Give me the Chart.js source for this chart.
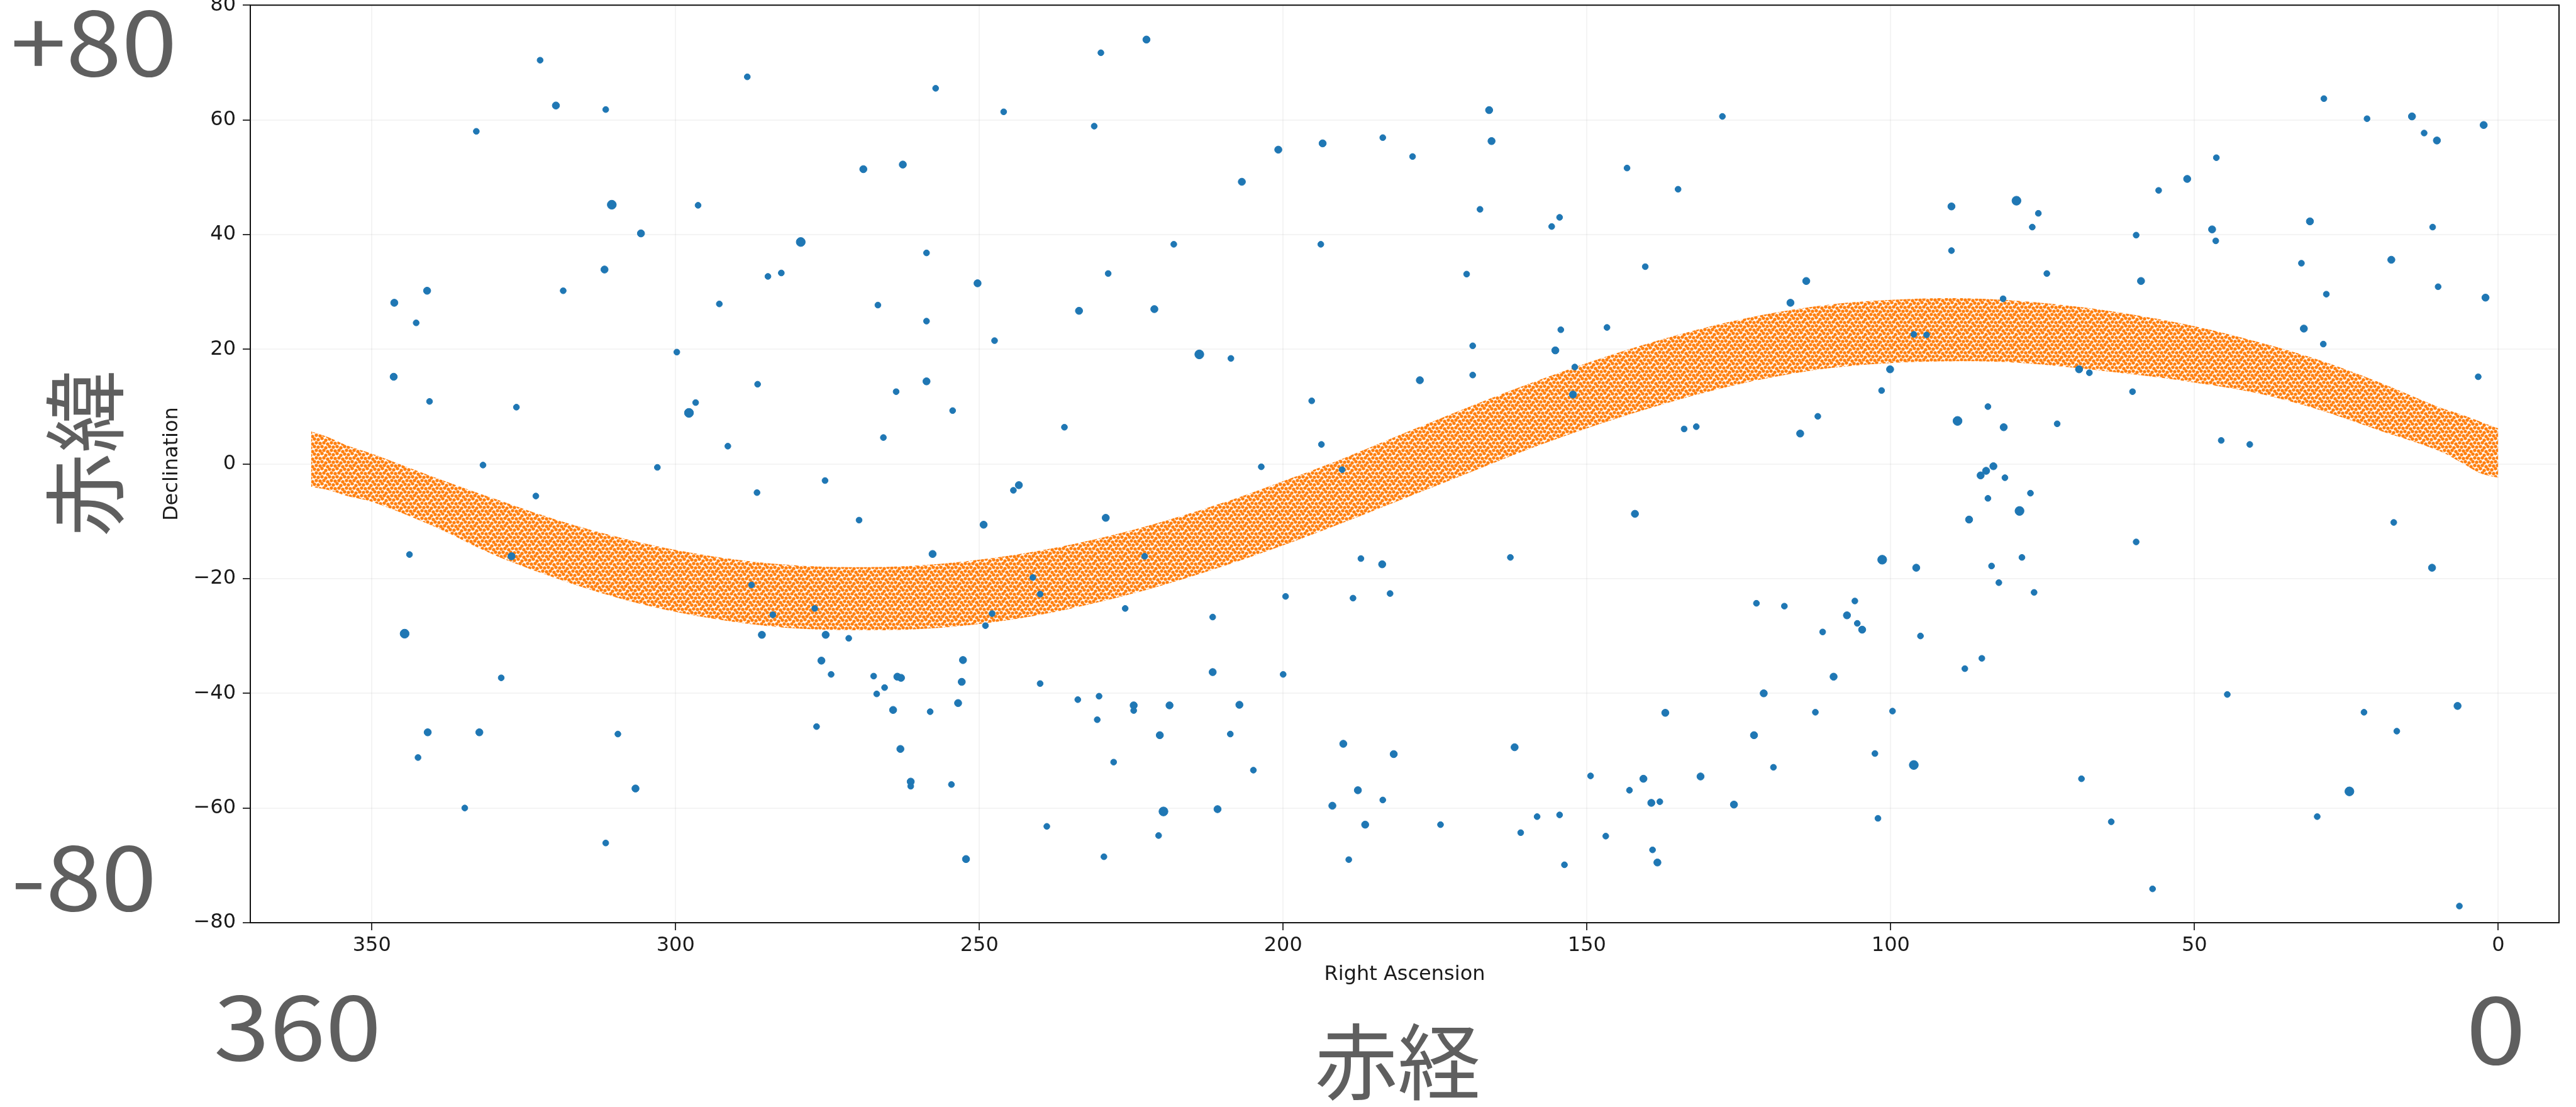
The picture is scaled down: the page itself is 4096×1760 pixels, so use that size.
<!DOCTYPE html>
<html lang="ja">
<head>
<meta charset="UTF-8">
<title>赤経・赤緯</title>
<script src="https://cdn.jsdelivr.net/npm/chart.js@4.4.1/dist/chart.umd.min.js"></script>
<style>
  html, body { margin: 0; padding: 0; background: #fff; }
  #wrap { width: 4096px; height: 1760px; }
</style>
</head>
<body>
<div id="wrap"><canvas id="sky" width="4096" height="1760"></canvas></div>
<script>
// axis ticks
const raTicks = [0, 50, 100, 150, 200, 250, 300, 350];
const decTicks = [-80, -60, -40, -20, 0, 20, 40, 60, 80];

// ecliptic band, upper and lower edge
const bandRA    = [0, 3, 6, 10, 20, 30, 40, 50, 60, 70, 80, 90, 100, 110, 120, 130, 140, 150, 160, 170, 180,
                   190, 200, 210, 220, 230, 240, 250, 260, 270, 280, 290, 300, 310, 320, 330, 340, 350, 354, 357, 360];
const bandUpper = [6.2, 7.4, 8.6, 10.0, 14.4, 18.3, 21.4, 24.0, 26.0, 27.5, 28.5, 28.9, 28.6, 27.8, 26.2, 23.9, 21.0, 17.6, 13.8, 9.7, 5.4,
                   1.0, -3.0, -6.8, -10.1, -12.9, -15.1, -16.7, -17.7, -18.0, -17.7, -16.7, -15.0, -12.6, -9.6, -6.0, -2.2, 1.8, 3.2, 4.6, 5.7];
const bandLower = [-2.4, -1.6, 0.2, 2.4, 6.0, 9.6, 12.4, 14.2, 15.6, 16.8, 17.7, 17.9, 17.6, 16.7, 15.0, 12.6, 9.6, 6.2, 2.4, -1.8, -6.0,
                   -10.2, -14.2, -17.9, -21.2, -24.0, -26.3, -27.9, -28.8, -29.0, -28.7, -27.6, -25.8, -23.2, -19.8, -15.8, -10.8, -6.6, -5.6, -4.6, -4.0];

// stars: [right ascension, declination, brightness class 1..3]
const stars = [
  [322.3,70.4,1],[288.2,67.5,1],[319.7,62.5,2],[311.5,61.8,1],[332.8,58.0,1],[222.5,74.0,2],[230.0,71.7,1],[257.2,65.5,1],
  [246.0,61.4,1],[231.1,58.9,1],[200.8,54.8,2],[193.5,55.9,2],[183.6,56.9,1],[269.1,51.4,2],[262.6,52.2,2],[206.8,49.2,2],
  [310.5,45.2,3],[296.3,45.1,1],[305.7,40.2,2],[279.4,38.7,3],[258.7,36.8,1],[218.0,38.3,1],[193.8,38.3,1],[311.7,33.9,2],
  [284.8,32.7,1],[282.6,33.3,1],[228.8,33.2,1],[250.3,31.5,2],[340.9,30.2,2],[318.5,30.2,1],[346.3,28.1,2],[342.7,24.6,1],
  [292.8,27.9,1],[266.7,27.7,1],[233.6,26.7,2],[221.2,27.0,2],[258.7,24.9,1],[247.5,21.5,1],[299.8,19.5,1],[213.8,19.1,3],
  [208.6,18.4,1],[346.4,15.2,2],[286.5,13.9,1],[258.7,14.4,2],[263.7,12.6,1],[340.5,10.9,1],[326.2,9.9,1],[296.7,10.7,1],
  [297.8,8.9,3],[254.4,9.3,1],[195.3,11.0,1],[236.0,6.4,1],[265.8,4.6,1],[291.4,3.1,1],[193.7,3.4,1],[331.7,-0.2,1],
  [303.0,-0.6,1],[203.6,-0.5,1],[190.3,-1.0,1],
  [166.1,61.7,2],[165.7,56.3,2],[127.7,60.6,1],[178.7,53.6,1],[143.4,51.6,1],[135.0,47.9,1],[167.6,44.4,1],[154.5,43.0,1],
  [155.8,41.4,1],[28.7,63.7,1],[21.6,60.2,1],[14.2,60.6,2],[12.2,57.7,1],[10.1,56.4,2],[2.4,59.1,2],[46.4,53.4,1],
  [51.2,49.7,2],[55.9,47.7,1],[90.0,44.9,2],[79.3,45.9,3],[75.7,43.7,1],[76.7,41.3,1],[31.0,42.3,2],[10.8,41.3,1],
  [59.6,39.9,1],[47.1,40.9,2],[46.5,38.9,1],[90.0,37.2,1],[140.4,34.4,1],[169.8,33.1,1],[113.9,31.9,2],[74.3,33.2,1],
  [58.8,31.9,2],[32.4,35.0,1],[17.6,35.6,2],[9.9,30.9,1],[2.1,29.0,2],[28.3,29.6,1],[116.5,28.1,2],[81.5,28.8,1],
  [154.3,23.4,1],[146.7,23.8,1],[168.8,20.6,1],[155.2,19.8,2],[32.0,23.6,2],[28.8,20.9,1],[152.0,16.9,1],[177.5,14.6,2],
  [168.8,15.5,1],[152.3,12.1,2],[100.1,16.5,2],[96.2,22.6,1],[94.1,22.5,1],[69.0,16.5,2],[67.3,15.9,1],[101.5,12.8,1],
  [60.2,12.6,1],[3.3,15.2,1],[84.0,10.0,1],[112.0,8.3,1],[89.0,7.5,3],[81.4,6.4,2],[72.6,7.0,1],[134.0,6.1,1],
  [132.0,6.5,1],[114.9,5.3,2],[45.6,4.1,1],[40.9,3.4,1],
  [83.1,-0.4,2],[84.3,-1.2,2],[85.2,-2.0,2],[81.2,-2.4,1],[77.0,-5.1,1],[84.0,-6.0,1],[78.8,-8.2,3],[87.1,-9.7,2],
  [142.1,-8.7,2],[17.2,-10.2,1],[59.6,-13.6,1],[162.6,-16.3,1],[101.4,-16.7,3],[95.8,-18.1,2],[83.4,-17.8,1],[78.4,-16.3,1],
  [10.9,-18.1,2],[82.2,-20.7,1],[76.4,-22.4,1],[122.1,-24.3,1],[117.5,-24.8,1],[105.9,-23.9,1],[107.2,-26.4,2],[105.5,-27.8,1],
  [104.7,-28.9,2],[111.2,-29.3,1],[95.1,-30.0,1],[85.0,-33.9,1],[87.8,-35.7,1],[109.4,-37.1,2],[120.9,-40.0,2],[44.6,-40.2,1],
  [137.1,-43.4,2],[112.4,-43.3,1],[99.7,-43.1,1],[6.7,-42.2,2],[22.1,-43.3,1],[16.7,-46.6,1],[122.5,-47.3,2],[161.9,-49.4,2],
  [102.6,-50.5,1],[96.2,-52.5,3],[119.3,-52.9,1],[149.4,-54.4,1],[140.7,-54.9,2],[131.3,-54.5,2],[68.6,-54.9,1],[143.0,-56.9,1],
  [139.4,-59.1,2],[138.0,-58.9,1],[125.8,-59.4,2],[24.5,-57.1,3],[174.1,-62.9,1],[158.2,-61.5,1],[154.5,-61.2,1],[160.9,-64.3,1],
  [146.9,-64.9,1],[102.1,-61.8,1],[63.7,-62.4,1],[29.8,-61.5,1],[139.2,-67.3,1],[138.4,-69.5,2],[153.7,-69.9,1],[56.9,-74.1,1],
  [6.4,-77.1,1],
  [323.0,-5.6,1],[286.6,-5.0,1],[275.4,-2.9,1],[244.4,-4.6,1],[243.5,-3.7,2],[269.8,-9.8,1],[249.3,-10.6,2],[229.2,-9.4,2],
  [343.8,-15.8,1],[327.0,-16.1,2],[257.7,-15.7,2],[222.8,-16.1,1],[187.2,-16.5,1],[183.7,-17.5,2],[241.2,-19.8,1],[199.6,-23.1,1],
  [188.5,-23.4,1],[182.4,-22.6,1],[287.5,-21.1,1],[240.0,-22.7,1],[277.1,-25.2,1],[226.0,-25.2,1],[211.6,-26.7,1],[284.0,-26.3,1],
  [247.9,-26.1,1],[344.6,-29.6,3],[285.8,-29.8,2],[275.3,-29.8,2],[271.5,-30.4,1],[249.0,-28.2,1],[276.0,-34.3,2],[252.7,-34.2,2],
  [328.7,-37.3,1],[274.4,-36.7,1],[267.4,-37.0,1],[263.5,-37.1,2],[262.9,-37.3,2],[252.9,-38.0,2],[211.6,-36.3,2],[200.0,-36.7,1],
  [240.0,-38.3,1],[265.6,-39.0,1],[266.9,-40.1,1],[233.8,-41.1,1],[230.3,-40.5,1],[224.6,-42.1,2],[224.6,-43.0,1],[218.7,-42.1,2],
  [207.2,-42.0,2],[264.2,-42.9,2],[258.1,-43.2,1],[253.5,-41.7,2],[230.6,-44.6,1],[340.8,-46.8,2],[332.3,-46.8,2],[309.5,-47.1,1],
  [276.8,-45.8,1],[220.3,-47.3,2],[208.7,-47.1,1],[190.1,-48.8,2],[181.8,-50.6,2],[342.4,-51.2,1],[263.0,-49.7,2],[227.9,-52.0,1],
  [204.9,-53.4,1],[306.6,-56.6,2],[261.3,-55.4,2],[261.3,-56.2,1],[254.6,-55.9,1],[187.7,-56.9,2],[183.6,-58.6,1],[334.7,-60.0,1],
  [219.7,-60.6,3],[210.8,-60.2,2],[191.9,-59.6,2],[238.9,-63.2,1],[186.5,-62.9,2],[220.5,-64.8,1],[311.5,-66.1,1],[252.2,-68.9,2],
  [229.5,-68.5,1],[189.2,-69.0,1]
];

const TICK_FONT = { family: 'DejaVu Sans', size: 32 };
const BIG_FONT = '"Noto Sans CJK JP", "Noto Sans", sans-serif';
const starRadius = { 1: 4.8, 2: 5.8, 3: 7.2 };

function minus(v) { return String(v).replace('-', '\u2212'); }

// dotted texture for the band, orange dots like the scatter marks
function bandPattern() {
  const c = document.createElement('canvas');
  c.width = 24; c.height = 24;
  const g = c.getContext('2d');
  g.fillStyle = '#ff7f0e';
  const dots = [[2,3],[8,1],[14,4],[20,2],[5,9],[11,8],[17,10],[23,8],
                [2,15],[8,14],[14,16],[20,14],[5,21],[11,20],[17,22],[23,20]];
  dots.forEach(([x, y]) => {
    [-24, 0, 24].forEach(dx => [-24, 0, 24].forEach(dy => {
      g.beginPath(); g.arc(x + dx, y + dy, 2.7, 0, Math.PI * 2); g.fill();
    }));
  });
  return g.createPattern(c, 'repeat');
}

// put text so that its ink fills the box w x h centred on (cx, cy)
function inkText(ctx, text, cx, cy, w, h, rotate) {
  ctx.font = '100px ' + BIG_FONT;
  const m = ctx.measureText(text);
  const iw = m.actualBoundingBoxLeft + m.actualBoundingBoxRight;
  const ih = m.actualBoundingBoxAscent + m.actualBoundingBoxDescent;
  ctx.save();
  ctx.translate(cx, cy);
  if (rotate) ctx.rotate(-Math.PI / 2);
  ctx.scale(w / iw, h / ih);
  ctx.fillText(text, -(m.actualBoundingBoxRight - m.actualBoundingBoxLeft) / 2,
               (m.actualBoundingBoxAscent - m.actualBoundingBoxDescent) / 2);
  ctx.restore();
}

const overlay = {
  id: 'overlay',
  afterDraw(chart) {
    const ctx = chart.ctx, a = chart.chartArea;
    ctx.save();
    ctx.strokeStyle = '#111';
    ctx.lineWidth = 2;
    ctx.strokeRect(a.left, a.top, a.right - a.left, a.bottom - a.top);

    ctx.fillStyle = '#5f5f5f';
    ctx.textAlign = 'left';
    ctx.textBaseline = 'alphabetic';
    inkText(ctx, '+80', 148, 69, 253, 107);
    inkText(ctx, '-80', 133, 1396, 218, 106);
    inkText(ctx, '360', 471, 1634, 256, 106);
    inkText(ctx, '0', 3969, 1638, 79, 110);
    inkText(ctx, '赤経', 2223, 1689, 257, 125);
    inkText(ctx, '赤緯', 136, 721, 257, 125, true);
    ctx.restore();
  }
};

function draw() {
  const ctx = document.getElementById('sky').getContext('2d');
  const fill = bandPattern();
  new Chart(ctx, {
    type: 'scatter',
    data: {
      datasets: [{
        label: 'stars',
        data: stars.map(s => ({ x: s[0], y: s[1], m: s[2] })),
        backgroundColor: '#1f77b4',
        borderColor: '#1f77b4',
        borderWidth: 1,
        pointRadius: c => starRadius[c.raw ? c.raw.m : 1],
        order: 0
      }, {
        type: 'line',
        label: 'band top',
        data: bandRA.map((x, i) => ({ x: x, y: bandUpper[i] })),
        borderColor: 'rgba(0,0,0,0)',
        borderWidth: 0,
        pointRadius: 0,
        tension: 0.35,
        fill: false,
        order: 1
      }, {
        type: 'line',
        label: 'ecliptic',
        data: bandRA.map((x, i) => ({ x: x, y: bandLower[i] })),
        borderColor: 'rgba(0,0,0,0)',
        borderWidth: 0,
        pointRadius: 0,
        tension: 0.35,
        backgroundColor: fill,
        fill: '-1',
        order: 1
      }]
    },
    options: {
      responsive: false,
      animation: false,
      devicePixelRatio: 1,
      events: [],
      layout: { padding: { left: 254, right: 27, top: 7, bottom: 191 } },
      plugins: { legend: { display: false }, tooltip: { enabled: false } },
      scales: {
        x: {
          type: 'linear',
          min: -10, max: 370,
          reverse: true,
          afterBuildTicks: s => { s.ticks = raTicks.map(v => ({ value: v })); },
          afterFit: s => { s.height = 102; s.paddingLeft = 0; s.paddingRight = 0; },
          ticks: { font: TICK_FONT, color: '#1a1a1a', padding: 5, maxRotation: 0, autoSkip: false, callback: v => minus(v) },
          grid: { color: 'rgba(0,0,0,0.045)', lineWidth: 2, tickLength: 12, tickColor: '#111', tickWidth: 1.7 },
          border: { display: false },
          title: { display: true, text: 'Right Ascension', font: TICK_FONT, color: '#1a1a1a', padding: 0 }
        },
        y: {
          type: 'linear',
          min: -80, max: 80,
          afterBuildTicks: s => { s.ticks = decTicks.map(v => ({ value: v })); },
          afterFit: s => { s.width = 144; s.paddingTop = 0; s.paddingBottom = 0; },
          ticks: { font: TICK_FONT, color: '#1a1a1a', padding: 11, autoSkip: false, callback: v => minus(v) },
          grid: { color: 'rgba(0,0,0,0.045)', lineWidth: 2, tickLength: 12, tickColor: '#111', tickWidth: 1.7 },
          border: { display: false },
          title: { display: true, text: 'Declination', font: TICK_FONT, color: '#1a1a1a', padding: 0 }
        }
      }
    },
    plugins: [overlay]
  });
}

Promise.all([
  document.fonts.load('32px "DejaVu Sans"'),
  document.fonts.load('100px "Noto Sans CJK JP"', '赤経緯+80')
]).then(draw, draw);
</script>
</body>
</html>
